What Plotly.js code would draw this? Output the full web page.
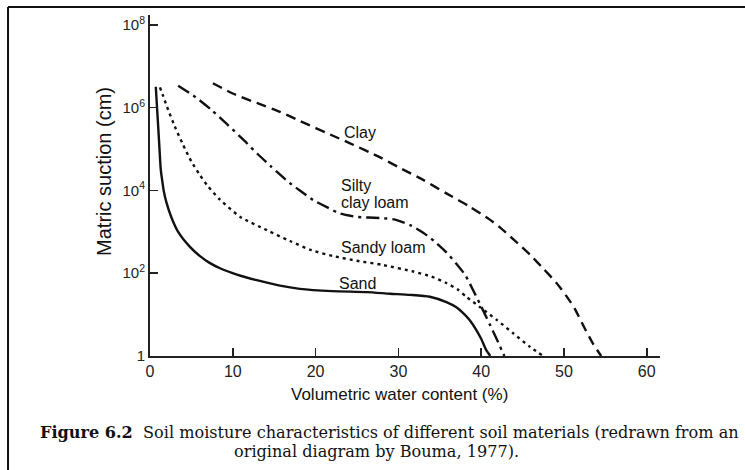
<!DOCTYPE html>
<html>
<head>
<meta charset="utf-8">
<script src="https://cdn.plot.ly/plotly-3.0.1.min.js"></script>
<style>
  html, body { margin: 0; padding: 0; background: #ffffff; }
  #chart { width: 745px; height: 470px; }
</style>
</head>
<body>
<div id="chart"></div>
<script>
// Volumetric water content (%) and matric suction (cm)
var sandWater = [0.7, 0.85, 1.0, 1.15, 1.3, 1.5, 1.65, 2.0, 2.6, 3.4, 4.8, 6.0, 7.2, 8.45, 10.5, 12.9, 15.7, 18.1, 22, 26.2, 29, 31.4, 33.8, 35.8, 37.0, 37.8, 38.6, 39.4, 40.0, 40.6, 41.1];
var sandSuction = [3.2e6, 1.0e6, 3.2e5, 1.0e5, 3.2e4, 1.6e4, 1.0e4, 5000, 2200, 1000, 440, 263, 178, 132, 93, 68, 50, 42, 37, 35, 32, 30, 27, 20, 15, 11, 7.4, 4.3, 2.6, 1.4, 1];

var sandyLoamWater = [1.2, 1.6, 2.0, 3.0, 4.0, 5.0, 6.0, 7.0, 8.45, 10.9, 14.1, 16.9, 19.5, 22.1, 25, 28, 31.8, 34, 35.8, 37.2, 38.2, 39.8, 41.9, 43.9, 45.9, 47.5];
var sandyLoamSuction = [3.1e6, 1.9e6, 1.12e6, 3.5e5, 1.26e5, 5.0e4, 2.4e4, 1.26e4, 6000, 2300, 1100, 600, 360, 260, 200, 160, 110, 83, 58, 40, 27, 15.5, 7.4, 3.5, 1.66, 1];

var siltyWater = [3.4, 5.5, 7.4, 9.3, 11.3, 13.0, 14.5, 16.9, 18.1, 19.7, 21.3, 23.0, 25, 27.8, 29.5, 31.6, 33, 34.4, 35.8, 37.0, 38.1, 39.0, 39.8, 40.6, 41.3, 41.9, 42.8];
var siltySuction = [3.4e6, 1.8e6, 8.9e5, 4.0e5, 1.66e5, 7.6e4, 4.0e4, 1.5e4, 1.0e4, 5900, 4000, 2750, 2300, 2150, 2000, 1400, 950, 580, 320, 170, 89, 40, 19, 8.9, 4.5, 2.5, 1];

var clayWater = [7.6, 10, 12.9, 15.7, 18.1, 22.1, 24.1, 27.8, 30.2, 33, 35.8, 38.5, 41, 42.3, 44, 45.9, 47.5, 49.1, 50.3, 51.3, 52.3, 53.5, 54.5];
var claySuction = [3.9e6, 2.2e6, 1.3e6, 7.9e5, 4.8e5, 2.1e5, 1.4e5, 6.3e4, 3.5e4, 1.8e4, 8500, 4200, 2000, 1260, 630, 280, 130, 58, 28, 14, 5.6, 2.0, 1];

var xTickVals = [0, 10, 20, 30, 40, 50, 60];
var xTickText = ['0', '10', '20', '30', '40', '50', '60'];
var yTickVals = [1, 1e2, 1e4, 1e6, 1e8];
var yTickText = ['1', '10<sup>2</sup>', '10<sup>4</sup>', '10<sup>6</sup>', '10<sup>8</sup>'];

var ink = '#111111';
function curve(x, y, dash, name) {
  return {
    x: x, y: y, type: 'scatter', mode: 'lines', name: name,
    line: { color: ink, width: 2.4, dash: dash, shape: 'spline', smoothing: 0.6 },
    hoverinfo: 'x+y+name'
  };
}

var data = [
  curve(sandWater, sandSuction, 'solid', 'Sand'),
  curve(sandyLoamWater, sandyLoamSuction, '3px,4px', 'Sandy loam'),
  curve(siltyWater, siltySuction, '13px,5px,3px,5px', 'Silty clay loam'),
  curve(clayWater, claySuction, '10px,6px', 'Clay')
];

var sans = 'Liberation Sans, Arial, sans-serif';
var serif = 'DejaVu Serif, serif';
function label(text, x, y) {
  return { text: text, x: x, y: y, xref: 'x', yref: 'y', xanchor: 'left', yanchor: 'middle',
           showarrow: false, font: { family: sans, size: 16, color: ink } };
}

var layout = {
  width: 745, height: 470,
  margin: { l: 150, r: 85, t: 15, b: 114 },
  paper_bgcolor: '#ffffff', plot_bgcolor: '#ffffff',
  showlegend: false,
  xaxis: {
    range: [0, 61.6], showgrid: false, zeroline: false,
    showline: true, linecolor: '#222222', linewidth: 2,
    ticks: 'inside', ticklen: 8, tickwidth: 1.5, tickcolor: '#222222',
    tickvals: xTickVals, ticktext: xTickText,
    tickfont: { family: sans, size: 16, color: '#222222' }
  },
  yaxis: {
    type: 'log', range: [0, 8.24], showgrid: false, zeroline: false,
    showline: true, linecolor: '#222222', linewidth: 2,
    ticks: 'inside', ticklen: 8, tickwidth: 1.5, tickcolor: '#222222',
    tickvals: yTickVals, ticktext: yTickText,
    tickfont: { family: sans, size: 15, color: '#222222' }
  },
  annotations: [
    label('Clay', 23.2, 5.39),
    label('Silty', 22.8, 4.11),
    label('clay loam', 22.8, 3.72),
    label('Sandy loam', 22.8, 2.61),
    label('Sand', 22.6, 1.74),
    { text: 'Matric suction (cm)', xref: 'paper', yref: 'paper', x: -0.090, y: 0.54,
      textangle: -90, showarrow: false, xanchor: 'center', yanchor: 'middle',
      font: { family: sans, size: 20, color: ink } },
    { text: 'Volumetric water content (%)', xref: 'paper', yref: 'paper', x: 0.49, y: -0.114,
      showarrow: false, xanchor: 'center', yanchor: 'middle',
      font: { family: sans, size: 17, color: ink } },
    { text: '<b>Figure 6.2</b>  Soil moisture characteristics of different soil materials (redrawn from an',
      xref: 'paper', yref: 'paper', x: -0.2196, y: -0.2258,
      showarrow: false, xanchor: 'left', yanchor: 'middle',
      font: { family: serif, size: 16.1, color: ink } },
    { text: 'original diagram by Bouma, 1977).',
      xref: 'paper', yref: 'paper', x: 0.445, y: -0.2815,
      showarrow: false, xanchor: 'center', yanchor: 'middle',
      font: { family: serif, size: 16.1, color: ink } }
  ],
  shapes: [
    { type: 'line', xref: 'paper', yref: 'paper', x0: -0.2784, x1: 1.2, y0: 1.0235, y1: 1.0235,
      line: { color: '#111111', width: 2 } },
    { type: 'line', xref: 'paper', yref: 'paper', x0: -0.2784, x1: -0.2784, y0: 1.0235, y1: -0.4,
      line: { color: '#111111', width: 2 } }
  ]
};

Plotly.newPlot('chart', data, layout, { displayModeBar: false, staticPlot: true });
</script>
</body>
</html>
